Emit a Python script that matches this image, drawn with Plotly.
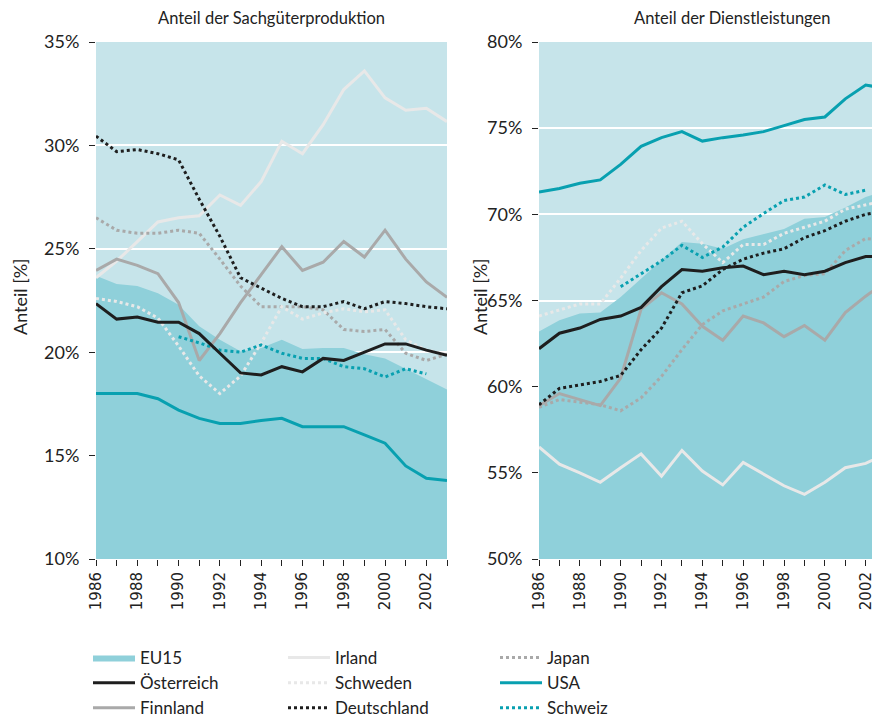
import plotly.graph_objects as go

years = list(range(1986, 2004))

# Anteil der Sachgüterproduktion (%)
eu15_sach = [23.7, 23.3, 23.2, 22.85, 22.3, 21.25, 20.6, 20.05, 20.2, 20.6, 20.15, 20.2, 20.2, 19.9, 19.7, 19.2, 18.7, 18.2]
oesterreich_sach = [22.35, 21.6, 21.7, 21.45, 21.45, 20.9, 19.95, 19.0, 18.9, 19.3, 19.05, 19.7, 19.6, 20.0, 20.4, 20.4, 20.1, 19.85]
finnland_sach = [23.95, 24.5, 24.2, 23.8, 22.4, 19.6, 20.9, 22.4, 23.75, 25.1, 23.95, 24.35, 25.35, 24.6, 25.9, 24.5, 23.4, 22.65]
irland_sach = [23.6, 24.4, 25.35, 26.3, 26.5, 26.6, 27.6, 27.1, 28.25, 30.2, 29.6, 31.0, 32.7, 33.6, 32.3, 31.7, 31.8, 31.15]
schweden_sach = [22.6, 22.45, 22.2, 21.65, 20.3, 18.85, 18.0, 18.85, 20.45, 22.2, 21.6, 21.9, 22.1, 21.95, 22.05, 20.6, 20.1, 19.9]
deutschland_sach = [30.45, 29.7, 29.8, 29.6, 29.3, 27.4, 25.6, 23.6, 23.1, 22.6, 22.2, 22.2, 22.45, 22.1, 22.45, 22.35, 22.2, 22.1]
japan_sach = [26.5, 25.9, 25.75, 25.75, 25.9, 25.75, 24.5, 23.2, 22.2, 22.2, 22.2, 22.05, 21.1, 21.0, 21.1, 19.95, 19.6, 19.9]
usa_sach = [18.0, 18.0, 18.0, 17.75, 17.2, 16.8, 16.55, 16.55, 16.7, 16.8, 16.4, 16.4, 16.4, 16.0, 15.6, 14.5, 13.9, 13.8]
schweiz_sach = [None, None, None, None, 20.75, 20.45, 20.1, 20.0, 20.35, 19.95, 19.7, 19.7, 19.3, 19.2, 18.8, 19.2, 18.95, None]

# Anteil der Dienstleistungen (%)
eu15_dienst = [63.2, 63.85, 64.25, 64.3, 65.2, 66.25, 67.3, 68.4, 68.3, 68.0, 68.55, 68.85, 69.15, 69.75, 69.85, 70.4, 71.0, 71.4]
oesterreich_dienst = [62.2, 63.1, 63.4, 63.9, 64.1, 64.6, 65.8, 66.8, 66.7, 66.9, 67.0, 66.5, 66.7, 66.5, 66.7, 67.2, 67.55, 67.55]
finnland_dienst = [58.9, 59.6, 59.25, 58.9, 60.5, 64.5, 65.45, 64.8, 63.5, 62.7, 64.1, 63.7, 62.9, 63.55, 62.7, 64.3, 65.25, 66.1]
irland_dienst = [56.5, 55.5, 55.0, 54.45, 55.3, 56.1, 54.8, 56.3, 55.1, 54.3, 55.6, 54.9, 54.25, 53.75, 54.45, 55.3, 55.55, 56.1]
schweden_dienst = [64.1, 64.45, 64.8, 64.8, 66.3, 67.9, 69.2, 69.6, 68.3, 67.2, 68.25, 68.25, 68.9, 69.25, 69.6, 70.3, 70.55, 70.8]
deutschland_dienst = [58.95, 59.9, 60.1, 60.3, 60.65, 62.15, 63.4, 65.45, 65.85, 66.8, 67.4, 67.75, 68.0, 68.65, 69.05, 69.6, 70.0, 70.2]
japan_dienst = [58.8, 59.25, 59.1, 58.95, 58.6, 59.35, 60.6, 62.15, 63.6, 64.4, 64.8, 65.2, 66.1, 66.45, 66.55, 67.9, 68.6, 68.5]
usa_dienst = [71.3, 71.5, 71.8, 72.0, 72.9, 73.95, 74.45, 74.8, 74.25, 74.45, 74.6, 74.8, 75.15, 75.5, 75.65, 76.7, 77.5, 77.3]
schweiz_dienst = [None, None, None, None, 65.8, 66.55, 67.3, 68.2, 67.5, 68.1, 69.25, 70.05, 70.8, 71.0, 71.7, 71.15, 71.4, None]

BG = "rgb(198,228,234)"
EU = "rgb(143,208,218)"
TEAL = "rgb(8,160,176)"
BLACK = "#1e1e1e"
GRAY = "#a9a9a9"
LIGHT = "#e8e8e8"

# name, left data, right data, color, dash, legend column, rank in column
series = [
    ("Irland", irland_sach, irland_dienst, LIGHT, "solid", "legend2", 1),
    ("Japan", japan_sach, japan_dienst, GRAY, "dot", "legend3", 1),
    ("Finnland", finnland_sach, finnland_dienst, GRAY, "solid", "legend", 3),
    ("Schweden", schweden_sach, schweden_dienst, LIGHT, "dot", "legend2", 2),
    ("Deutschland", deutschland_sach, deutschland_dienst, BLACK, "dot", "legend2", 3),
    ("Schweiz", schweiz_sach, schweiz_dienst, TEAL, "dot", "legend3", 3),
    ("USA", usa_sach, usa_dienst, TEAL, "solid", "legend3", 2),
    ("Österreich", oesterreich_sach, oesterreich_dienst, BLACK, "solid", "legend", 2),
]

fig = go.Figure()

for i, (vals, xa, ya) in enumerate([(eu15_sach, "x", "y"), (eu15_dienst, "x2", "y2")]):
    fig.add_trace(go.Scatter(
        x=years, y=vals, xaxis=xa, yaxis=ya, name="EU15", mode="lines",
        fill="tozeroy", fillcolor=EU, line=dict(width=0, color=EU),
        showlegend=(i == 0), legend="legend", legendrank=1, legendgroup="EU15",
        hoverinfo="skip"))

for name, left, right, color, dash, leg, rank in series:
    for i, (vals, xa, ya) in enumerate([(left, "x", "y"), (right, "x2", "y2")]):
        fig.add_trace(go.Scatter(
            x=years, y=vals, xaxis=xa, yaxis=ya, name=name, mode="lines",
            line=dict(color=color, width=3, dash=dash),
            showlegend=(i == 0), legend=leg, legendrank=rank, legendgroup=name,
            connectgaps=False))

# page body has an 8px margin: figure coordinates are screen coordinates minus 8
W, H = 872, 710
OFF = 8
def px(x):
    return (x - OFF) / W
def py(y):
    return 1 - (y - OFF) / H

ydom = [py(559), py(42)]
xfont = dict(family="DejaVu Sans", size=15, color="#222")
yfont = dict(family="Lato", size=18, color="#222")

common_x = dict(tick0=1986, dtick=2, ticks="outside", ticklen=6, tickcolor="#222",
                tickangle=-90, tickfont=xfont, showgrid=False, zeroline=False,
                showline=False, automargin=False,
                minor=dict(dtick=1, tick0=1986, ticks="outside", ticklen=6, tickcolor="#222", showgrid=False))
common_y = dict(ticks="outside", ticklen=6, tickcolor="#222", tickfont=yfont,
                ticksuffix="%", showgrid=True, gridcolor="white", gridwidth=1.5,
                zeroline=False, showline=False, dtick=5, automargin=False,
                ticklabelstandoff=6)

leg_common = dict(orientation="v", yanchor="top", y=py(640), xanchor="left",
                  itemwidth=42, traceorder="normal", tracegroupgap=3.5,
                  font=dict(family="Lato", size=17, color="#222"),
                  bgcolor="rgba(0,0,0,0)")

fig.update_layout(
    width=W, height=H,
    margin=dict(l=0, r=0, t=0, b=0, autoexpand=False),
    paper_bgcolor="white", plot_bgcolor=BG,
    font=dict(family="Lato", size=15, color="#222"),
    xaxis=dict(domain=[px(96), px(447)], range=[1986, 2003], anchor="y", **common_x),
    yaxis=dict(domain=ydom, range=[10, 35], anchor="x", **common_y),
    xaxis2=dict(domain=[px(539), 1.0], range=[1986, 2002.7], anchor="y2", **common_x),
    yaxis2=dict(domain=ydom, range=[50, 80], anchor="x2", **common_y),
    showlegend=True,
    legend=dict(x=px(88), **leg_common),
    legend2=dict(x=px(283), **leg_common),
    legend3=dict(x=px(495), **leg_common),
    annotations=[
        dict(text="Anteil der Sachgüterproduktion", x=px(271), y=py(18), xref="paper", yref="paper",
             xanchor="center", yanchor="middle",
             showarrow=False, font=dict(family="Lato", size=16.5, color="#222")),
        dict(text="Anteil der Dienstleistungen", x=px(732), y=py(18), xref="paper", yref="paper",
             xanchor="center", yanchor="middle",
             showarrow=False, font=dict(family="Lato", size=16.5, color="#222")),
        dict(text="Anteil [%]", x=px(20), y=py(297), xref="paper", yref="paper", textangle=-90,
             xanchor="center", yanchor="middle",
             showarrow=False, font=dict(family="Lato", size=18, color="#222")),
        dict(text="Anteil [%]", x=px(480), y=py(297), xref="paper", yref="paper", textangle=-90,
             xanchor="center", yanchor="middle",
             showarrow=False, font=dict(family="Lato", size=18, color="#222")),
    ],
)

fig.write_html("out.html")
